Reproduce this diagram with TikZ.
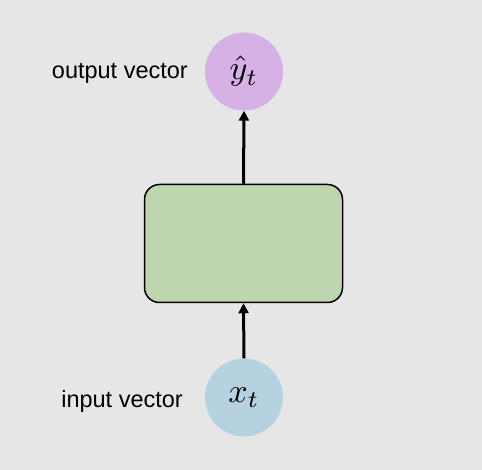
\documentclass[tikz,border=0pt]{standalone}
\usepackage{fontspec}
\usepackage{graphicx}
\setsansfont{Liberation Sans}
\usetikzlibrary{arrows.meta}
\definecolor{bgc}{RGB}{230,230,230}
\definecolor{purp}{RGB}{213,177,229}
\definecolor{grn}{RGB}{189,214,176}
\definecolor{blu}{RGB}{182,209,223}
\tikzset{
  vec/.style={circle,minimum size=78pt,inner sep=0pt},
  cell/.style={draw=black,line width=1.5pt,rounded corners=15pt,fill=grn,minimum width=198pt,minimum height=118pt},
  lbl/.style={font=\sffamily\fontsize{23.5}{28}\selectfont,inner sep=0pt},
  conn/.style={line width=3pt,-{Triangle[width=10pt,length=10pt]}}
}
\begin{document}
\begin{tikzpicture}[x=1pt,y=-1pt]
\fill[bgc] (0,0) rectangle (482,470);
\useasboundingbox (0,0) rectangle (482,470);
\node[vec,fill=purp] (out) at (244,71.5) {\scalebox{3.4}{$\hat{y}_t$}};
\node[vec,fill=blu] (in) at (244,397.5) {\scalebox{3.4}{$x_t$}};
\node[cell] (rnn) at (243.5,243.5) {};
\node[lbl,anchor=east] (outl) at (188,73) {output vector};
\node[lbl,anchor=east] (inl) at (183,401) {input vector};
\draw[conn] (rnn.north) -- (out.south);
\draw[conn] (in.north) -- (rnn.south);
\end{tikzpicture}
\end{document}
